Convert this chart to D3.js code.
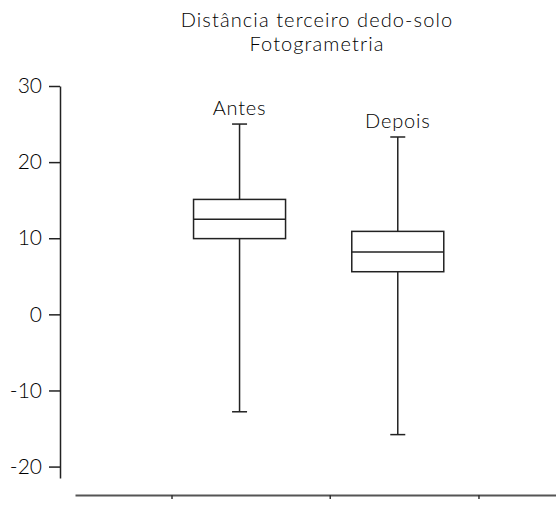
<!DOCTYPE html>
<html>
<head>
<meta charset="utf-8">
<script src="https://cdn.jsdelivr.net/npm/d3@7"></script>
<style>
  body { margin: 0; background: #fff; }
  text { font-family: Lato, "Open Sans", sans-serif; font-weight: 300; fill: #000; }
</style>
</head>
<body>
<svg id="chart" width="556" height="505"></svg>
<script>
// data
var groups = ["Antes", "Depois"];
var whiskerHigh = [25.0, 23.3];
var q3 = [15.1, 10.9];
var median = [12.5, 8.2];
var q1 = [9.95, 5.6];
var whiskerLow = [-12.8, -15.8];
var yTicks = [-20, -10, 0, 10, 20, 30];
var xTicks = [0.57, 1.57, 2.51];
var titleLines = ["Distância terceiro dedo-solo", "Fotogrametria"];

var svg = d3.select("#chart");

var y = d3.scaleLinear().domain([-21.5, 30]).range([478, 86]);
var x = d3.scaleLinear().domain([-0.04, 3]).range([75, 556]);

var boxW = 92, capW = 15;

// title
svg.selectAll("text.title").data(titleLines).enter().append("text")
  .attr("class", "title")
  .attr("x", 317)
  .attr("y", function(d, i) { return 27 + i * 24; })
  .attr("text-anchor", "middle")
  .style("font-size", "20px")
  .style("letter-spacing", "1.1px")
  .text(function(d) { return d; });

// y axis
var yAxis = svg.append("g")
  .attr("transform", "translate(60,0)")
  .call(d3.axisLeft(y).tickValues(yTicks).tickSize(11).tickSizeOuter(0).tickPadding(7)
    .tickFormat(function(d) { return String(d); }));
yAxis.select(".domain").attr("stroke", "#222").attr("stroke-width", 1.5);
yAxis.selectAll(".tick line").attr("stroke", "#222").attr("stroke-width", 1.5);
yAxis.selectAll(".tick text").style("font-size", "21px").attr("fill", "#000");

// x axis
var xAxis = svg.append("g")
  .attr("transform", "translate(0,495)")
  .call(d3.axisBottom(x).tickValues(xTicks).tickSize(4).tickSizeOuter(0).tickFormat(""));
xAxis.select(".domain").attr("stroke", "#555").attr("stroke-width", 2);
xAxis.selectAll(".tick line").attr("stroke", "#333").attr("stroke-width", 1.5);

// boxes
var idx = d3.range(groups.length);
var g = svg.selectAll("g.box").data(idx).enter().append("g")
  .attr("class", "box")
  .attr("stroke", "#222")
  .attr("stroke-width", 1.5)
  .attr("fill", "none");

g.append("line")
  .attr("x1", function(i) { return x(i + 1); })
  .attr("x2", function(i) { return x(i + 1); })
  .attr("y1", function(i) { return y(whiskerHigh[i]); })
  .attr("y2", function(i) { return y(whiskerLow[i]); });

g.append("rect")
  .attr("x", function(i) { return x(i + 1) - boxW / 2; })
  .attr("width", boxW)
  .attr("y", function(i) { return y(q3[i]); })
  .attr("height", function(i) { return y(q1[i]) - y(q3[i]); })
  .attr("fill", "#fff");

g.append("line")
  .attr("x1", function(i) { return x(i + 1) - boxW / 2; })
  .attr("x2", function(i) { return x(i + 1) + boxW / 2; })
  .attr("y1", function(i) { return y(median[i]); })
  .attr("y2", function(i) { return y(median[i]); });

[whiskerHigh, whiskerLow].forEach(function(arr) {
  g.append("line")
    .attr("x1", function(i) { return x(i + 1) - capW / 2; })
    .attr("x2", function(i) { return x(i + 1) + capW / 2; })
    .attr("y1", function(i) { return y(arr[i]); })
    .attr("y2", function(i) { return y(arr[i]); });
});

// group labels above the top whisker
svg.selectAll("text.grp").data(idx).enter().append("text")
  .attr("class", "grp")
  .attr("x", function(i) { return x(i + 1); })
  .attr("y", function(i) { return y(whiskerHigh[i]) - 9; })
  .attr("text-anchor", "middle")
  .style("font-size", "20px")
  .style("letter-spacing", "0.8px")
  .text(function(i) { return groups[i]; });
</script>
</body>
</html>
